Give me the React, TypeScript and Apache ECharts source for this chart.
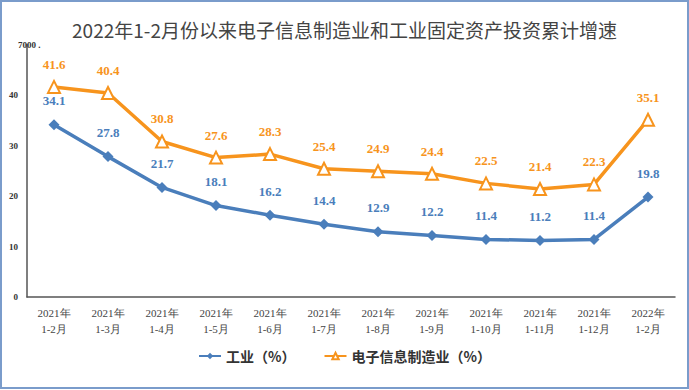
import React, { useEffect, useRef } from "react";
import * as echarts from "echarts";

const categories = [
  "2021年\n1-2月", "2021年\n1-3月", "2021年\n1-4月", "2021年\n1-5月", "2021年\n1-6月", "2021年\n1-7月",
  "2021年\n1-8月", "2021年\n1-9月", "2021年\n1-10月", "2021年\n1-11月", "2021年\n1-12月", "2022年\n1-2月",
];
const industry = [34.1, 27.8, 21.7, 18.1, 16.2, 14.4, 12.9, 12.2, 11.4, 11.2, 11.4, 19.8];
const electronics = [41.6, 40.4, 30.8, 27.6, 28.3, 25.4, 24.9, 24.4, 22.5, 21.4, 22.3, 35.1];
const seriesNames = ["工业（%）", "电子信息制造业（%）"];
const titleText = "2022年1-2月份以来电子信息制造业和工业固定资产投资累计增速";

const BLUE = "#4A7EBB";
const ORANGE = "#F7941D";

export default function App() {
  const ref = useRef<HTMLDivElement>(null);
  useEffect(() => {
    const chart = echarts.init(ref.current!, undefined, { renderer: "svg" });
    chart.setOption({
      animation: false,
      backgroundColor: "#ffffff",
      title: {
        text: titleText,
        left: "center",
        top: 15,
        textStyle: {
          fontFamily: "Noto Sans CJK SC",
          fontWeight: "normal",
          fontSize: 19,
          color: "#444444",
        },
      },
      graphic: [
        {
          type: "rect",
          shape: { x: 1, y: 1, width: 687, height: 387 },
          style: { fill: "none", stroke: "#7A9CCB", lineWidth: 2 },
          silent: true,
        },
      ],
      legend: {
        bottom: 22,
        left: "center",
        itemGap: 28,
        itemWidth: 22,
        itemHeight: 8,
        textStyle: {
          fontFamily: "Noto Sans CJK SC",
          fontWeight: "bold",
          fontSize: 14,
          color: "#333333",
        },
        data: seriesNames,
      },
      grid: { left: 27, right: 14, top: 44.5, bottom: 93, containLabel: false, outerBoundsMode: "none" },
      xAxis: {
        type: "category",
        data: categories,
        boundaryGap: true,
        axisLine: { lineStyle: { color: "#555555", width: 1.5 } },
        axisTick: { show: false },
        axisLabel: {
          interval: 0,
          fontFamily: "Liberation Serif",
          fontSize: 11,
          lineHeight: 16,
          color: "#444444",
          margin: 8,
        },
      },
      yAxis: {
        type: "value",
        min: 0,
        max: 50,
        interval: 10,
        splitLine: { show: false },
        axisLine: { show: true, lineStyle: { color: "#555555", width: 1.5 } },
        axisTick: { show: false },
        axisLabel: {
          fontFamily: "Liberation Serif",
          fontWeight: "bold",
          fontSize: 9,
          color: "#333333",
          margin: 9,
          alignMaxLabel: "left",
          formatter: (v: number) => (v === 50 ? "7000 ." : String(v)),
        },
      },
      series: [
        {
          name: seriesNames[0],
          type: "line",
          data: industry,
          symbol: "diamond",
          symbolSize: 11,
          itemStyle: { color: BLUE },
          lineStyle: { color: BLUE, width: 3.5 },
          label: {
            show: true,
            position: "top",
            distance: 12,
            fontFamily: "Liberation Serif",
            fontWeight: "bold",
            fontSize: 13,
            color: BLUE,
          },
        },
        {
          name: seriesNames[1],
          type: "line",
          data: electronics,
          symbol: "triangle",
          symbolSize: 12,
          itemStyle: { color: "#ffffff", borderColor: ORANGE, borderWidth: 2 },
          lineStyle: { color: ORANGE, width: 3.5 },
          label: {
            show: true,
            position: "top",
            distance: 9,
            fontFamily: "Liberation Serif",
            fontWeight: "bold",
            fontSize: 13,
            color: ORANGE,
          },
        },
      ],
    });
    return () => chart.dispose();
  }, []);
  return (
    <div
      ref={ref}
      style={{ position: "fixed", left: 0, top: 0, width: 689, height: 390 }}
    />
  );
}
